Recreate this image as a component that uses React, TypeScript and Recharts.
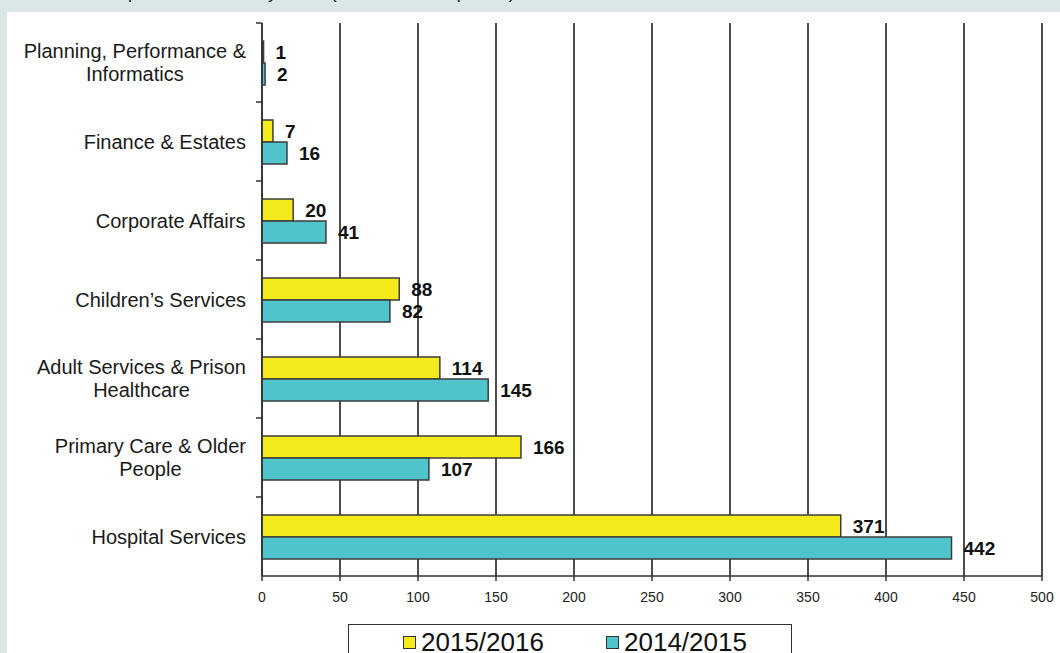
// Complaints received by team, two financial years side by side.
// Yellow is 2015/2016, cyan is 2014/2015; values printed at the bar ends.
import {
  Bar,
  BarChart,
  CartesianGrid,
  LabelList,
  Legend,
  XAxis,
  YAxis,
} from "recharts";

const categories = [
  "Planning, Performance &\nInformatics",
  "Finance & Estates",
  "Corporate Affairs",
  "Children\u2019s Services",
  "Adult Services & Prison\nHealthcare",
  "Primary Care & Older\nPeople",
  "Hospital Services",
];
const year2015 = [1, 7, 20, 88, 114, 166, 371];
const year2014 = [2, 16, 41, 82, 145, 107, 442];
const seriesNames = ["2015/2016", "2014/2015"];
const xTicks = [0, 50, 100, 150, 200, 250, 300, 350, 400, 450, 500];

const FONT = "'Liberation Sans', Arial, Helvetica, sans-serif";
const W = 1053;
const H = 641;
const MARGIN = { top: 11, right: 18, bottom: 47, left: 0 };
const X_AXIS_H = 30;
const BAND = (H - MARGIN.top - MARGIN.bottom - X_AXIS_H) / categories.length;
const LABEL_GAP = 16;

const rows = categories.map((name, i) => ({
  name,
  y2015: year2015[i],
  y2014: year2014[i],
}));

let ctx: CanvasRenderingContext2D | null = null;
function textWidth(s: string, size: number) {
  if (!ctx) ctx = document.createElement("canvas").getContext("2d");
  if (!ctx) return s.length * size * 0.5;
  ctx.font = `${size}px ${FONT}`;
  return ctx.measureText(s).width;
}

function CategoryTick(props: any) {
  const { x, y, payload } = props;
  const lines = String(payload.value).split("\n");
  const maxW = Math.max(...lines.map(l => textWidth(l, 20)));
  const cx = x - maxW / 2;
  const lh = 23;
  const first = y - ((lines.length - 1) * lh) / 2;
  const axisX = x + LABEL_GAP;
  return (
    <g>
      <line
        x1={axisX - 6}
        x2={axisX}
        y1={y - BAND / 2}
        y2={y - BAND / 2}
        stroke="#333"
        strokeWidth={1.5}
      />
      {lines.map((l, i) => (
        <text
          key={i}
          x={cx}
          y={first + i * lh}
          textAnchor="middle"
          dominantBaseline="central"
          fontFamily={FONT}
          fontSize={20}
          fill="#1a1a1a"
        >
          {l}
        </text>
      ))}
    </g>
  );
}

function LegendBox({ payload }: any) {
  const items = [...(payload ?? [])].sort(
    (a: any, b: any) => seriesNames.indexOf(a.value) - seriesNames.indexOf(b.value),
  );
  return (
    <div
      style={{
        width: 444,
        height: 44,
        boxSizing: "border-box",
        border: "1.5px solid #333",
        background: "#fff",
        display: "flex",
        alignItems: "flex-start",
        paddingLeft: 54,
        paddingTop: 2,
        fontFamily: FONT,
        fontSize: 26,
        lineHeight: "30px",
        color: "#111",
      }}
    >
      {items.map((p: any, i: number) => (
        <div
          key={i}
          style={{ display: "flex", alignItems: "center", width: 203, flexShrink: 0 }}
        >
          <span
            style={{
              width: 11,
              height: 11,
              background: p.color,
              border: "1.5px solid #333",
              marginRight: 5,
              flexShrink: 0,
            }}
          />
          <span>{p.value}</span>
        </div>
      ))}
    </div>
  );
}

const valueLabel = {
  fill: "#111",
  fontSize: 19,
  fontWeight: 700,
  fontFamily: FONT,
};

export default function App() {
  return (
    <div
      style={{
        position: "absolute",
        left: 0,
        top: 0,
        width: 1060,
        height: 653,
        overflow: "hidden",
        background: "#d9e7e7",
        fontFamily: FONT,
      }}
    >
      <div
        style={{
          position: "absolute",
          left: 90,
          top: -18,
          fontSize: 18,
          lineHeight: "20px",
          color: "#222",
          whiteSpace: "nowrap",
        }}
      >
        Complaints received by Team (number of complaints)
      </div>
      <div style={{ position: "absolute", left: 7, top: 12, width: W, height: H, background: "#fff" }}>
        <BarChart
          width={W}
          height={H}
          data={rows}
          layout="vertical"
          margin={MARGIN}
          barGap={0}
        >
          <CartesianGrid horizontal={false} stroke="#4d4d4d" strokeWidth={2} />
          <XAxis
            xAxisId="top"
            orientation="top"
            type="number"
            domain={[0, 500]}
            height={0}
            tick={false}
            tickLine={false}
            axisLine={{ stroke: "#9a9a9a", strokeWidth: 1.5 }}
          />
          <XAxis
            type="number"
            domain={[0, 500]}
            ticks={xTicks}
            interval={0}
            height={X_AXIS_H}
            tickSize={5}
            tickMargin={11}
            tick={{ fill: "#222", fontSize: 14, fontFamily: FONT }}
            axisLine={{ stroke: "#333", strokeWidth: 1.5 }}
            tickLine={{ stroke: "#333", strokeWidth: 1.5 }}
          />
          <YAxis
            type="category"
            dataKey="name"
            width={255}
            interval={0}
            tickSize={0}
            tickMargin={LABEL_GAP}
            tickLine={false}
            tick={<CategoryTick />}
            axisLine={{ stroke: "#333", strokeWidth: 1.5 }}
          />
          <Legend
            layout="vertical"
            align="center"
            verticalAlign="middle"
            content={<LegendBox />}
            wrapperStyle={{ position: "absolute", left: 341, top: 612, width: 444, height: 44 }}
          />
          <Bar
            dataKey="y2015"
            name={seriesNames[0]}
            fill="#f4ea1c"
            stroke="#3c3c3c"
            strokeWidth={1.5}
            barSize={22}
            isAnimationActive={false}
          >
            <LabelList dataKey="y2015" position="right" offset={12} style={valueLabel} />
          </Bar>
          <Bar
            dataKey="y2014"
            name={seriesNames[1]}
            fill="#4fc4cb"
            stroke="#3c3c3c"
            strokeWidth={1.5}
            barSize={22}
            isAnimationActive={false}
          >
            <LabelList dataKey="y2014" position="right" offset={12} style={valueLabel} />
          </Bar>
        </BarChart>
      </div>
    </div>
  );
}
